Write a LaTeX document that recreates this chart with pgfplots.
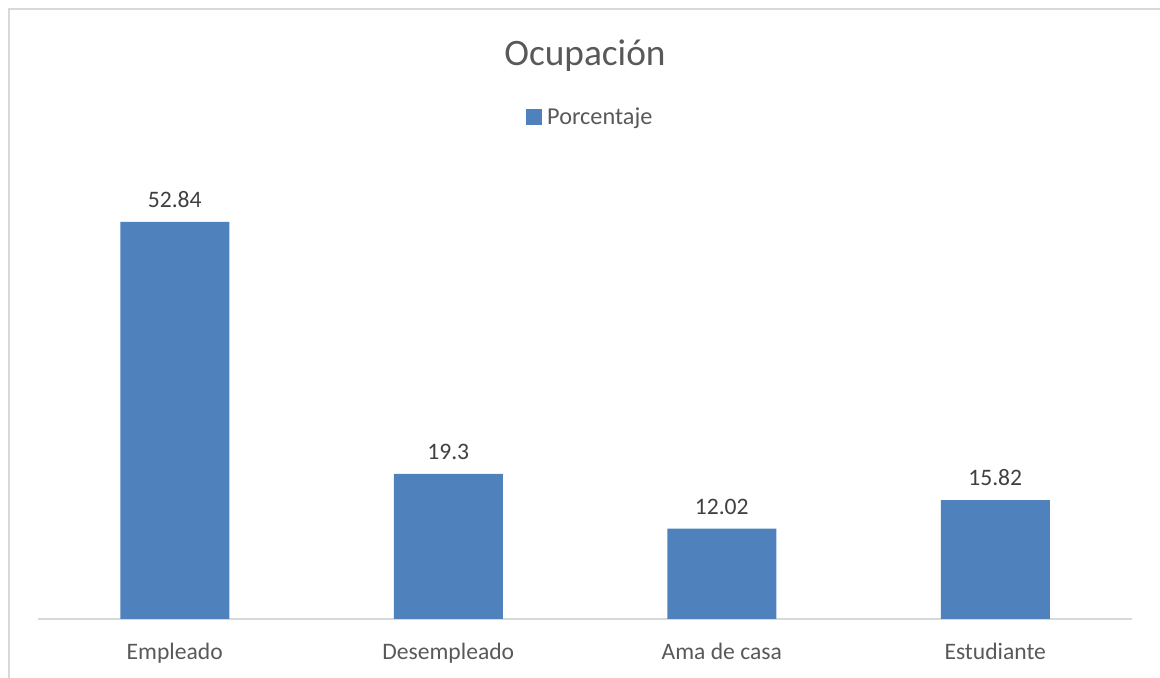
\documentclass[border=0pt]{standalone}
\usepackage{pgfplots}
\pgfplotsset{compat=1.18}
\usepackage{fontspec}
\setmainfont{Carlito}
\definecolor{barblue}{RGB}{79,129,189}
\definecolor{txtgray}{RGB}{89,89,89}
\definecolor{lblgray}{RGB}{64,64,64}
\definecolor{linegray}{RGB}{217,217,217}

\begin{document}
\begin{tikzpicture}
  % page size = 1160x678 px at 0.75pt per px
  \path[use as bounding box] (0,0) rectangle (870pt,508.5pt);
  \draw[linegray, line width=1pt] (6.75pt,0) -- (6.75pt,501.75pt) -- (870pt,501.75pt);
  \begin{axis}[
    at = {(28.5pt,44.25pt)}, anchor = south west,
    scale only axis,
    width = 820.5pt, height = 338.25pt,
    ybar, bar width = 81.75pt,
    xmin = -0.5, xmax = 3.5,
    ymin = 0, ymax = 60,
    axis y line = none,
    axis x line* = bottom,
    x axis line style = {draw=linegray, line width=1pt, -},
    xtick = data,
    xticklabels = {Empleado, Desempleado, Ama de casa, Estudiante},
    xtick style = {draw=none},
    xticklabel style = {font=\fontsize{17.7}{20}\selectfont, text=txtgray, yshift=-10pt},
    point meta = explicit symbolic,
    nodes near coords,
    nodes near coords style = {font=\fontsize{17.7}{20}\selectfont, text=lblgray, yshift=7pt},
    title = {Ocupación},
    title style = {font=\fontsize{28}{32}\selectfont, text=txtgray,
                   at={(0.5,1.232)}, anchor=center},
    legend style = {at={(0.505,1.113)}, anchor=center, draw=none, fill=none,
                    font=\fontsize{18.2}{20}\selectfont, text=txtgray},
    legend image code/.code = {\fill[barblue] (0pt,-6pt) rectangle (12pt,6pt);},
    legend cell align = left,
    legend style = {/tikz/every odd column/.style={xshift=-2pt}},
    clip = false,
  ]
    \addplot[fill=barblue, draw=none] coordinates {
      (0,52.84) [52.84]
      (1,19.3) [19.3]
      (2,12.02) [12.02]
      (3,15.82) [15.82]
    };
    \addlegendentry{\hspace{2pt}Porcentaje}
  \end{axis}
\end{tikzpicture}
\end{document}
